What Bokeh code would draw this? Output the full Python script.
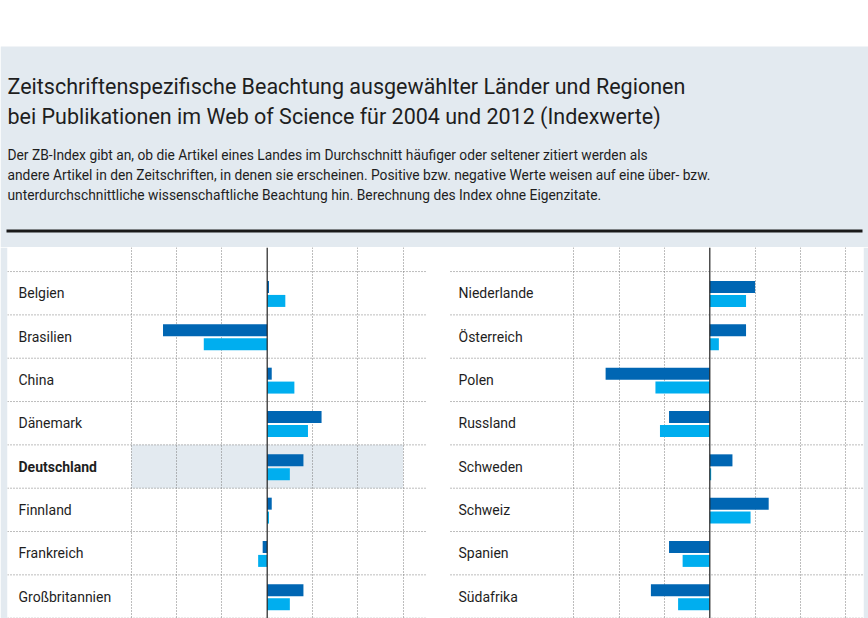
from bokeh.plotting import figure
from bokeh.layouts import column, row
from bokeh.models import Range1d, FixedTicker, Span, ColumnDataSource
from bokeh.transform import dodge
from bokeh.core.properties import value
from bokeh.embed import file_html
from bokeh.resources import INLINE

# ---------------- data ----------------
left_countries = ["Belgien", "Brasilien", "China", "Dänemark", "Deutschland",
                  "Finnland", "Frankreich", "Großbritannien"]
left_2004 = [0.4, -23, 1, 12, 8, 1, -1, 8]
left_2012 = [4, -14, 6, 9, 5, 0.4, -2, 5]

right_countries = ["Niederlande", "Österreich", "Polen", "Russland", "Schweden",
                   "Schweiz", "Spanien", "Südafrika"]
right_2004 = [10, 8, -23, -9, 5, 13, -9, -13]
right_2012 = [8, 2, -12, -11, 0.3, 9, -6, -7]

grid_ticks = [-30, -20, -10, 10, 20, 30]
highlight = "Deutschland"

title_lines = ["Zeitschriftenspezifische Beachtung ausgewählter Länder und Regionen",
               "bei Publikationen im Web of Science für 2004 und 2012 (Indexwerte)"]
subtitle_lines = ["Der ZB-Index gibt an, ob die Artikel eines Landes im Durchschnitt häufiger oder seltener zitiert werden als",
                  "andere Artikel in den Zeitschriften, in denen sie erscheinen. Positive bzw. negative Werte weisen auf eine über- bzw.",
                  "unterdurchschnittliche wissenschaftliche Beachtung hin. Berechnung des Index ohne Eigenzitate."]

# ---------------- style ----------------
FONT = "Roboto"
BG = "#e3eaf0"
DARK = "#0066b3"
LIGHT = "#00aeef"
TXT = "#1e1e1e"
GRIDC = "#7a7a7a"
W = 868
HEAD_H = 247
PANEL_H = 371
PX = 4.53      # pixels per index unit
ROW = 43.33    # pixels per row

# ---------------- header ----------------
head = figure(width=W, height=HEAD_H, x_range=Range1d(0, W), y_range=Range1d(HEAD_H, 0),
              output_backend="svg", toolbar_location=None, min_border=0)
head.axis.visible = False
head.grid.visible = False
head.outline_line_color = None
head.background_fill_color = "white"
head.border_fill_color = "white"
head.quad(left=0, right=W, top=46, bottom=HEAD_H, fill_color=BG, line_color=None)
head.text(x=[7, 7], y=[86, 116], text=title_lines, text_font=value(FONT),
          text_font_size="21.5px", text_color=TXT, text_baseline="middle")
head.text(x=[7, 7, 7], y=[154, 174, 194], text=subtitle_lines, text_font=value(FONT),
          text_font_size="13.8px", text_color=TXT, text_baseline="middle")
head.segment(x0=[6], y0=[230.5], x1=[862], y1=[230.5], line_color="#1a1a1a", line_width=3)


def panel(countries, v04, v12, frame_w, pad_l, pad_r, zero_px, label_px, seg_start_px, seg_end_px):
    x0 = -zero_px / PX
    x1 = (frame_w - zero_px) / PX
    top = -1.055
    bottom = top + PANEL_H / ROW
    p = figure(width=frame_w + pad_l + pad_r, height=PANEL_H, x_range=Range1d(x0, x1),
               y_range=Range1d(bottom, top), output_backend="svg",
               toolbar_location=None, min_border=0,
               min_border_left=pad_l, min_border_right=pad_r,
               min_border_top=0, min_border_bottom=0)
    p.axis.visible = False
    p.outline_line_color = None
    p.background_fill_color = "white"
    p.border_fill_color = BG
    p.ygrid.visible = False
    p.xgrid.ticker = FixedTicker(ticks=grid_ticks)
    p.xgrid.grid_line_color = GRIDC
    p.xgrid.grid_line_dash = "1 2"
    p.xgrid.grid_line_width = 1

    idx = list(range(len(countries)))
    src = ColumnDataSource(dict(y=idx, v04=v04, v12=v12, name=countries))

    # highlight band
    if highlight in countries:
        h = countries.index(highlight)
        r = p.quad(left=[min(grid_ticks)], right=[max(grid_ticks)], top=[h - 0.5], bottom=[h + 0.5],
                   fill_color=BG, line_color=None)
        r.level = "image"

    # row separators
    ys = [i - 0.5 for i in range(len(countries) + 1)]
    p.segment(x0=[x0 + seg_start_px / PX] * len(ys), x1=[x0 + seg_end_px / PX] * len(ys),
              y0=ys, y1=ys, line_color=GRIDC, line_dash="1 2", line_width=1)

    p.hbar(y=dodge("y", -0.143, range=p.y_range), left=0, right="v04", height=0.277,
           source=src, fill_color=DARK, line_color=None)
    p.hbar(y=dodge("y", 0.178, range=p.y_range), left=0, right="v12", height=0.277,
           source=src, fill_color=LIGHT, line_color=None)

    p.add_layout(Span(location=0, dimension="height", line_color="#222222", line_width=1.2))

    normal = [c for c in countries if c != highlight]
    ny = [countries.index(c) for c in normal]
    p.text(x=[x0] * len(normal), y=ny, text=normal, x_offset=label_px, y_offset=0,
           text_font=value(FONT), text_font_size="14px", text_color=TXT,
           text_baseline="middle")
    if highlight in countries:
        p.text(x=[x0], y=[countries.index(highlight)], text=[highlight], x_offset=label_px,
               y_offset=0, text_font=value(FONT), text_font_size="14px",
               text_font_style="bold", text_color=TXT, text_baseline="middle")
    return p


left = panel(left_countries, left_2004, left_2012, 430, 7, 0, 259.7, 11, 0, 418)
right = panel(right_countries, right_2004, right_2012, 426, 0, 5, 272.3, 21, 13, 426)

layout = column(head, row(left, right, spacing=0), spacing=0)

open("out.html", "w").write(file_html(layout, INLINE))
